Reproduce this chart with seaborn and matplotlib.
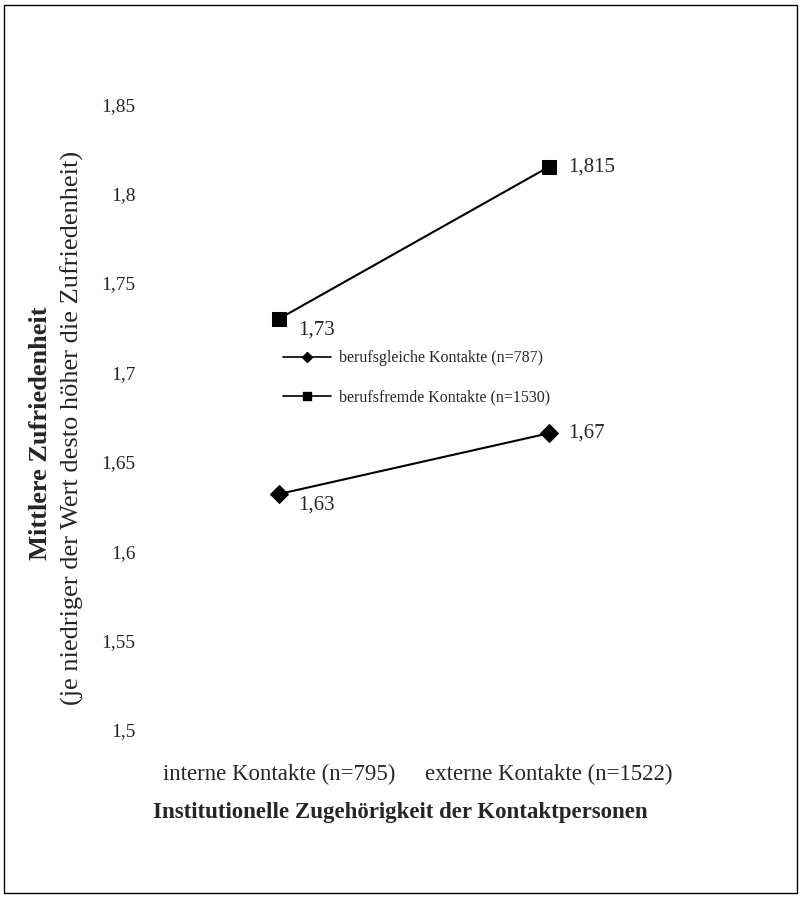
import pandas as pd
import seaborn as sns
import matplotlib.pyplot as plt
from matplotlib.patches import Rectangle

# values
categories = ['interne Kontakte (n=795)', 'externe Kontakte (n=1522)']
series_names = ['berufsgleiche Kontakte (n=787)', 'berufsfremde Kontakte (n=1530)']
gleich_values = [1.632, 1.666]
fremd_values = [1.73, 1.815]
gleich_labels = ['1,63', '1,67']
fremd_labels = ['1,73', '1,815']
y_ticks = [1.5, 1.55, 1.6, 1.65, 1.7, 1.75, 1.8, 1.85]
y_ticklabels = ['1,5', '1,55', '1,6', '1,65', '1,7', '1,75', '1,8', '1,85']

sns.set_style('white')
plt.rcParams['font.family'] = ['Liberation Serif', 'DejaVu Serif']

df = pd.DataFrame({
    'pos': [0, 1, 0, 1],
    'value': gleich_values + fremd_values,
    'series': [series_names[0]] * 2 + [series_names[1]] * 2,
})

fig = plt.figure(figsize=(8.02, 8.98), dpi=100)
ax = fig.add_axes([0.1796, 0.187, 0.853 - 0.1796, 0.884 - 0.187])

sns.lineplot(data=df, x='pos', y='value', hue='series', style='series',
             palette=['black', 'black'], markers={series_names[0]: 'D', series_names[1]: 's'},
             dashes=False, linewidth=1.5, markersize=9.5, markeredgecolor='black',
             ax=ax, legend=False)

# data labels
for vals, labs in [(gleich_values, gleich_labels), (fremd_values, fremd_labels)]:
    for i, (v, lab) in enumerate(zip(vals, labs)):
        dy = -8 if i == 0 else 0
        ax.annotate(lab, (i, v), xytext=(14, dy), textcoords='offset points',
                    ha='left', va='center', fontsize=15)

ax.set_xlim(-0.5, 1.5)
ax.set_ylim(1.5, 1.85)
ax.set_xticks([0, 1])
ax.set_xticklabels(categories, fontsize=16.5)
ax.set_yticks(y_ticks)
ax.set_yticklabels(y_ticklabels, fontsize=14)
ax.tick_params(axis='x', length=0, pad=24)
ax.tick_params(axis='y', length=0, pad=6)
ax.set_xlabel('')
ax.set_ylabel('')
for s in ax.spines.values():
    s.set_visible(False)

# legend
handles = [
    plt.Line2D([], [], color='black', marker='D', markersize=5, linewidth=1.2),
    plt.Line2D([], [], color='black', marker='s', markersize=6, linewidth=1.2),
]
fig.legend(handles, series_names, loc='upper left', bbox_to_anchor=(0.353, 0.610),
           frameon=False, fontsize=11.5, handlelength=3.0, handletextpad=0.5,
           labelspacing=1.45, borderpad=0, borderaxespad=0)

# axis titles
fig.text(0.05, 0.518, 'Mittlere Zufriedenheit', rotation=90, ha='center', va='center',
         fontsize=19, fontweight='bold')
fig.text(0.09, 0.524, '(je niedriger der Wert desto höher die Zufriedenheit)', rotation=90,
         ha='center', va='center', fontsize=19)
fig.text(0.499, 0.0947, 'Institutionelle Zugehörigkeit der Kontaktpersonen', ha='center',
         va='center', fontsize=16.5, fontweight='bold')

# frame around the whole chart
fig.patches.append(Rectangle((0.005, 0.006), 0.989, 0.988, transform=fig.transFigure,
                             fill=False, edgecolor='black', linewidth=1))

fig.savefig('out.png', dpi=100)
